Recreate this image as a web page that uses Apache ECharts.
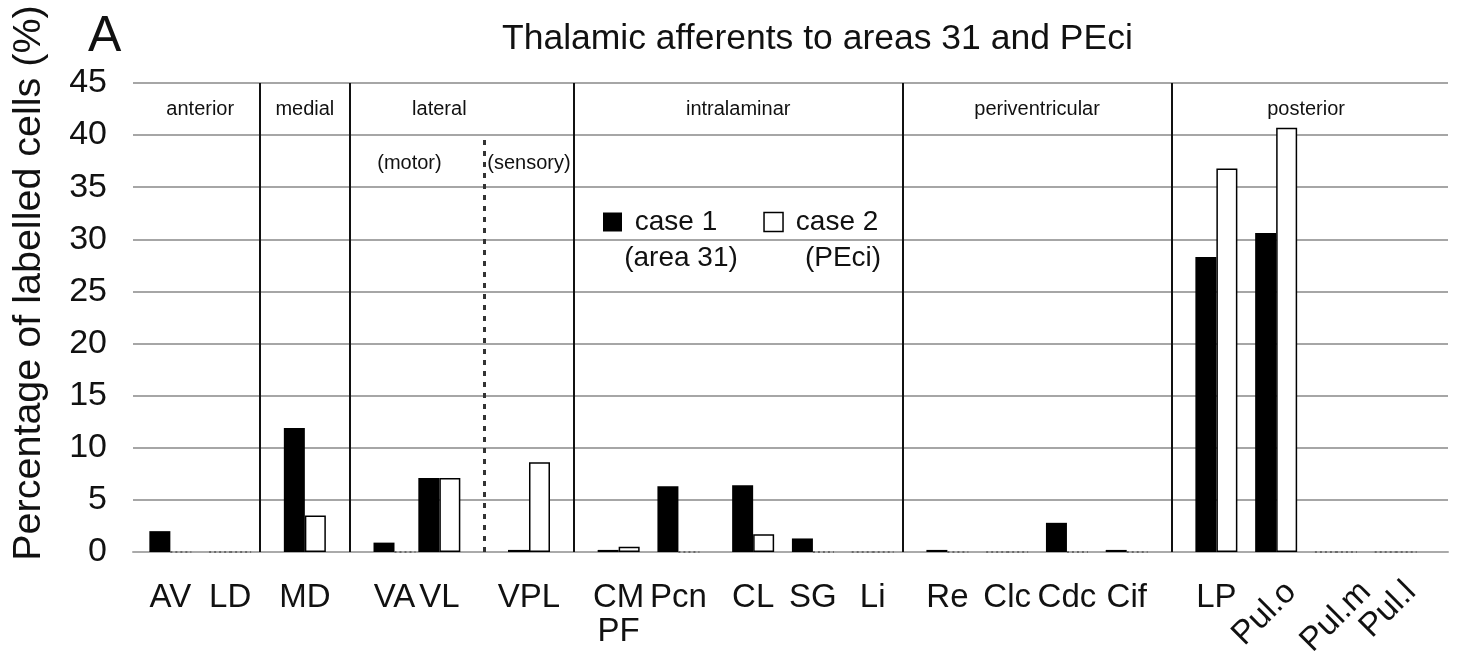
<!DOCTYPE html>
<html><head><meta charset="utf-8">
<script src="https://cdn.jsdelivr.net/npm/echarts@6/dist/echarts.min.js"></script>
<style>html,body{margin:0;padding:0;background:#fff}#c{width:1458px;height:653px}</style>
</head><body><div id="c"></div>
<script>
// ---------- data ----------
const categories = ['AV','LD','MD','VA','VL','VPL','CM\nPF','Pcn','CL','SG','Li','Re','Clc','Cdc','Cif','LP','Pul.o','Pul.m','Pul.l'];
const case1 = [2.0, 0, 11.9, 0.9, 7.1, 0.2, 0.2, 6.3, 6.4, 1.3, 0, 0.2, 0, 2.8, 0.2, 28.3, 30.6, 0, 0];
const case2 = [0, 0, 3.5, 0, 7.1, 8.6, 0.5, 0, 1.7, 0, 0, 0, 0, 0, 0, 36.8, 40.7, 0, 0];
const yMin = 0, yMax = 45, yStep = 5;
const seriesNames = ['case 1', 'case 2'];
const seriesNotes = ['(area 31)', '(PEci)'];
const groupNames = ['anterior', 'medial', 'lateral', 'intralaminar', 'periventricular', 'posterior'];
const subgroupNames = ['(motor)', '(sensory)'];
const titleText = 'Thalamic afferents to areas 31 and PEci';
const yName = 'Percentage of labelled cells (%)';
const panelLetter = 'A';

// ---------- layout ----------
const gapsBefore = [2,3,4,5,2,5,5,3,4,3,3,4,3,3,3,5,3,3,3];
const gapsAfter = 3;
const rotatedLabels = ['Pul.o','Pul.m','Pul.l'];
const rotatedShift = [1, 2, 1];
const solidSepAfter = ['LD','MD','VPL','Li','Cif'];
const dottedSepAfter = ['VL'];
const groupAnchors = [['AV','LD'],['MD'],['VL'],['CM\nPF','Li'],['Re','Cif'],['LP','Pul.l']];
const subgroupAnchors = [['VA','VL'],['VPL']];
const FONT = "'Liberation Sans', Arial, Helvetica, sans-serif";
const NARROW = "'Liberation Sans Narrow', 'Liberation Sans', Arial, sans-serif";

const slotCats = [];
const slotOf = {};
categories.forEach((c, i) => {
  for (let g = 0; g < gapsBefore[i]; g++) slotCats.push('_' + slotCats.length);
  slotOf[c] = slotCats.length;
  slotCats.push(c);
});
for (let g = 0; g < gapsAfter; g++) slotCats.push('_' + slotCats.length);

function sepSlot(name) {
  const i = categories.indexOf(name);
  return slotCats[Math.floor((slotOf[categories[i]] + slotOf[categories[i + 1]]) / 2)];
}
function anchorSlot(pair) {
  const a = slotOf[pair[0]], b = slotOf[pair[pair.length - 1]];
  return slotCats[Math.floor((a + b) / 2)];
}

function buildData(values, zeroStyle) {
  const arr = slotCats.map(() => '-');
  categories.forEach((c, i) => {
    const v = values[i];
    arr[slotOf[c]] = v === 0 ? { value: 0, itemStyle: zeroStyle } : v;
  });
  return arr;
}
const zeroStyle = { borderType: [2, 3], borderColor: '#555', borderWidth: 1.5 };

const sepLines = [];
solidSepAfter.forEach(n => {
  const s = sepSlot(n);
  sepLines.push([{ coord: [s, yMin], lineStyle: { color: '#111', width: 2, type: 'solid' } }, { coord: [s, yMax] }]);
});
dottedSepAfter.forEach(n => {
  const s = sepSlot(n);
  sepLines.push([{ coord: [s, yMin], lineStyle: { color: '#333', width: 3, type: [5, 6] } }, { coord: [s, yMax - yStep] }]);
});

const groupPoints = groupNames.map((g, i) => ({
  coord: [anchorSlot(groupAnchors[i]), 42.5], value: g
}));
subgroupNames.forEach((g, i) => groupPoints.push({
  coord: [anchorSlot(subgroupAnchors[i]), 37.3], value: g
}));

// rotated labels are drawn a little right of their category, as in the original
const rotatedAt = {};
rotatedLabels.forEach((n, i) => { rotatedAt[slotCats[slotOf[n] + rotatedShift[i]]] = n; });

const chart = echarts.init(document.getElementById('c'), null, { renderer: 'canvas' });
chart.setOption({
  animation: false,
  backgroundColor: '#fff',
  textStyle: { fontFamily: FONT },
  title: {
    text: titleText, left: 497, top: 16,
    textStyle: { fontFamily: FONT, fontSize: 35.5, fontWeight: 'normal', color: '#111' }
  },
  graphic: [
    { type: 'text', x: 88, y: 12, style: { text: panelLetter, font: '50px ' + FONT, fill: '#111' } },
    { type: 'text', x: 29, y: 283, rotation: Math.PI / 2,
      style: { text: yName, font: '39.5px ' + FONT, fill: '#111', textAlign: 'center', textVerticalAlign: 'middle' } },
    { type: 'text', x: 681, y: 258, style: { text: seriesNotes[0], font: '28px ' + FONT, fill: '#111', textAlign: 'center', textVerticalAlign: 'middle' } },
    { type: 'text', x: 843, y: 258, style: { text: seriesNotes[1], font: '28px ' + FONT, fill: '#111', textAlign: 'center', textVerticalAlign: 'middle' } }
  ],
  legend: {
    left: 598, top: 203,
    itemWidth: 19, itemHeight: 19, itemGap: 46,
    icon: 'rect',
    formatter: n => ' ' + n,
    textStyle: { fontFamily: FONT, fontSize: 28, color: '#111' },
    data: [
      { name: seriesNames[0], itemStyle: { color: '#000', borderWidth: 0 } },
      { name: seriesNames[1], itemStyle: { color: '#fff', borderColor: '#000', borderWidth: 1.5 } }
    ]
  },
  grid: { left: 133, right: 10, top: 83, bottom: 101, containLabel: false, outerBoundsMode: 'none' },
  xAxis: [{
    type: 'category', data: slotCats, boundaryGap: true,
    axisLine: { show: true, lineStyle: { color: '#aaa', width: 2 } },
    axisTick: { show: false },
    splitLine: { show: false },
    axisLabel: {
      interval: 0, margin: 29, fontSize: 33, color: '#111', fontFamily: FONT, lineHeight: 34,
      formatter: v => (v.charAt(0) === '_' || rotatedLabels.indexOf(v) >= 0) ? '' : v
    }
  }, {
    type: 'category', data: slotCats, boundaryGap: true, position: 'bottom',
    axisLine: { show: false }, axisTick: { show: false }, splitLine: { show: false },
    axisLabel: {
      interval: 0, margin: 35, rotate: 45, fontSize: 33, color: '#111', fontFamily: FONT,
      formatter: v => rotatedAt[v] || ''
    }
  }],
  yAxis: {
    type: 'value', min: yMin, max: yMax, interval: yStep,
    axisLine: { show: false }, axisTick: { show: false },
    splitLine: { show: true, lineStyle: { color: '#888', width: 1.5 } },
    axisLabel: { fontSize: 34, color: '#111', margin: 26, fontFamily: FONT }
  },
  series: [{
    name: seriesNames[0], type: 'bar', xAxisIndex: 0,
    barWidth: 21, barGap: '0%',
    itemStyle: { color: '#000' },
    data: buildData(case1, zeroStyle)
  }, {
    name: seriesNames[1], type: 'bar', xAxisIndex: 0,
    barWidth: 21, barGap: '0%',
    itemStyle: { color: '#fff', borderColor: '#000', borderWidth: 1.5 },
    data: buildData(case2, zeroStyle)
  }, {
    name: 'annotations', type: 'line', xAxisIndex: 0, silent: true,
    data: slotCats.map(() => '-'), showSymbol: false,
    lineStyle: { opacity: 0 },
    markLine: {
      silent: true, symbol: ['none', 'none'],
      label: { show: false },
      data: sepLines
    },
    markPoint: {
      symbol: 'rect', symbolSize: 1, silent: true,
      itemStyle: { color: 'rgba(0,0,0,0)' },
      label: { show: true, position: 'inside', color: '#111', fontSize: 20, fontFamily: NARROW, formatter: p => p.value },
      data: groupPoints
    }
  }]
});
</script>
</body></html>
